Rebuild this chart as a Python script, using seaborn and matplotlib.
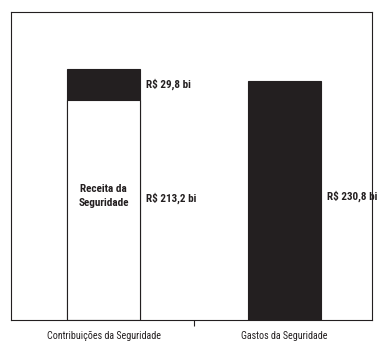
import matplotlib
matplotlib.use("Agg")
import matplotlib.pyplot as plt
import seaborn as sns
import pandas as pd

categories = ["Contribuições da Seguridade", "Gastos da Seguridade"]
receita = [213.2]          # Receita da Seguridade (first category only)
contribuicoes = [29.8]     # stacked on top of receita
gastos = [230.8]

sns.set_theme(style="white")
plt.rcParams["font.family"] = ["Roboto Condensed", "DejaVu Sans"]

fig = plt.figure(figsize=(3.77, 3.42), dpi=100)
ax = fig.add_axes([11 / 377, 22 / 342, 361 / 377, 308 / 342])

totals = [receita[0] + contribuicoes[0], gastos[0]]
df_tot = pd.DataFrame({"cat": categories, "val": totals})
df_rec = pd.DataFrame({"cat": categories[:1], "val": receita})

ink = "#231f20"
sns.barplot(data=df_tot, x="cat", y="val", order=categories, color=ink,
            saturation=1, width=0.405, edgecolor=ink, linewidth=0.8, ax=ax)
sns.barplot(data=df_rec, x="cat", y="val", order=categories, color="white",
            saturation=1, width=0.405, edgecolor=ink, linewidth=0.8, ax=ax)

ax.set_xlim(-0.514, 1.486)
ax.set_ylim(0, 298)
ax.set_xlabel("")
ax.set_ylabel("")
ax.set_yticks([])
ax.set_xticks([0, 1])
ax.set_xticklabels(categories, fontsize=7.2, color=ink)
ax.set_xticks([0.5], minor=True)
ax.tick_params(axis="x", which="major", length=0, pad=8)
ax.tick_params(axis="x", which="minor", length=4, width=0.8, color=ink,
               direction="out", bottom=True)
for s in ax.spines.values():
    s.set_visible(True)
    s.set_color(ink)
    s.set_linewidth(0.8)

fmt = lambda v: "R$ " + f"{v:.1f}".replace(".", ",") + " bi"
lab = dict(fontsize=8, fontweight="bold", color=ink, va="center", ha="left")
ax.text(0.235, receita[0] + contribuicoes[0] / 2, fmt(contribuicoes[0]), **lab)
ax.text(0.235, 118, fmt(receita[0]), **lab)
ax.text(1.235, 120, fmt(gastos[0]), **lab)
ax.text(0, 120, "Receita da\nSeguridade", fontsize=8, fontweight="bold",
        color=ink, ha="center", va="center", linespacing=1.5)

fig.savefig("out.png", dpi=100)
